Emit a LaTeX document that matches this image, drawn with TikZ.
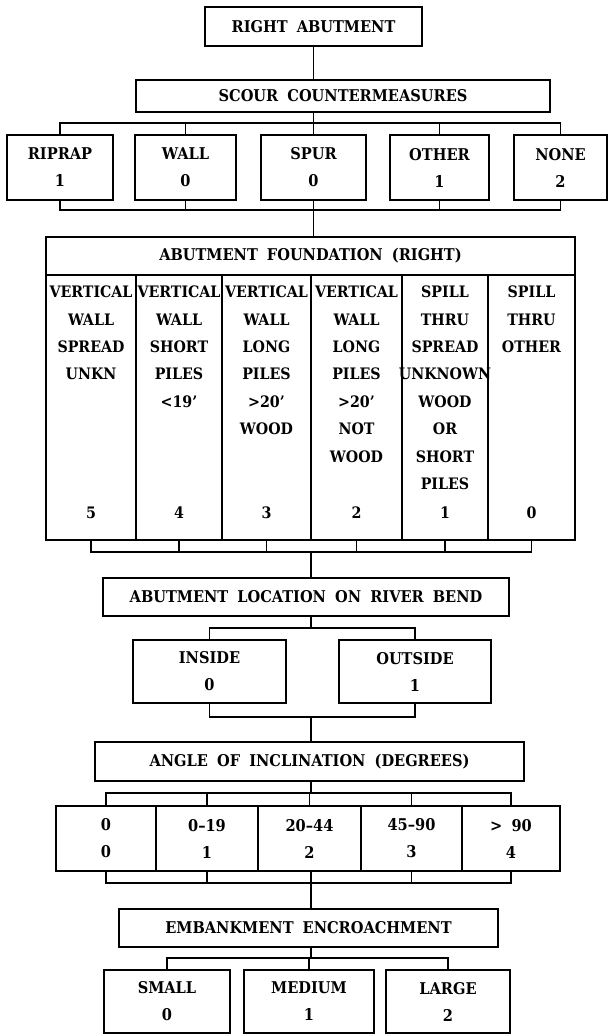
\documentclass[tikz,border=0pt]{standalone}
\usepackage{fontspec}
\setmainfont{DejaVu Serif Condensed}[WordSpace=1.8]
\usetikzlibrary{positioning}
\newcommand{\boxfont}{\fontsize{16.2}{27}\selectfont\bfseries}
\newcommand{\colfont}{\fontsize{15.8}{27.4}\selectfont\bfseries}
\tikzset{
  box/.style={draw, line width=1.5pt, inner sep=0pt, align=center, font=\boxfont},
  colbox/.style={draw, line width=1.5pt, inner sep=0pt, minimum height=265},
  coltext/.style={inner sep=0pt, align=center, font=\colfont},
}
\begin{document}
\begin{tikzpicture}[x=1pt, y=-1pt, line width=1.5pt]
  \useasboundingbox (0,0) rectangle (610,1034);
  % top of the tree
  \node[box, minimum width=217, minimum height=39] (rightab) at (313.5,26.5) {RIGHT ABUTMENT};
  \node[box, minimum width=414, minimum height=32] (scour) at (343,96) {SCOUR COUNTERMEASURES};
  \node[box, minimum width=106, minimum height=65] (riprap) at (60,167.5) {RIPRAP\\1};
  \node[box, minimum width=101, minimum height=65] (wall) at (185.5,167.5) {WALL\\0};
  \node[box, minimum width=105, minimum height=65] (spur) at (313.5,167.5) {SPUR\\0};
  \node[box, minimum width=99, minimum height=65] (other) at (439.5,167.5) {OTHER\\1};
  \node[box, minimum width=93, minimum height=65] (none) at (560.5,167.5) {NONE\\2};
  % foundation table
  \node[box, minimum width=529, minimum height=38] (found) at (310.5,256) {ABUTMENT FOUNDATION (RIGHT)};
  \node[colbox, minimum width=90] (colA) at (91,407.5) {};
  \node[colbox, minimum width=86] (colB) at (179,407.5) {};
  \node[colbox, minimum width=89] (colC) at (266.5,407.5) {};
  \node[colbox, minimum width=91] (colD) at (356.5,407.5) {};
  \node[colbox, minimum width=86] (colE) at (445,407.5) {};
  \node[colbox, minimum width=87] (colF) at (531.5,407.5) {};
  \node[coltext, below=11pt of colA.north] (txtA) {VERTICAL\\WALL\\SPREAD\\UNKN};
  \node[coltext, below=11pt of colB.north] (txtB) {VERTICAL\\WALL\\SHORT\\PILES\\<19'};
  \node[coltext, below=11pt of colC.north] (txtC) {VERTICAL\\WALL\\LONG\\PILES\\>20'\\WOOD};
  \node[coltext, below=11pt of colD.north] (txtD) {VERTICAL\\WALL\\LONG\\PILES\\>20'\\NOT\\WOOD};
  \node[coltext, below=11pt of colE.north] (txtE) {SPILL\\THRU\\SPREAD\\UNKNOWN\\WOOD\\OR\\SHORT\\PILES};
  \node[coltext, below=11pt of colF.north] (txtF) {SPILL\\THRU\\OTHER};
  \node[coltext, anchor=base] (numA) at (91,518) {5};
  \node[coltext, anchor=base] (numB) at (179,518) {4};
  \node[coltext, anchor=base] (numC) at (266.5,518) {3};
  \node[coltext, anchor=base] (numD) at (356.5,518) {2};
  \node[coltext, anchor=base] (numE) at (445,518) {1};
  \node[coltext, anchor=base] (numF) at (531.5,518) {0};
  % river bend
  \node[box, minimum width=406, minimum height=38] (location) at (306,597) {ABUTMENT LOCATION ON RIVER BEND};
  \node[box, minimum width=153, minimum height=63] (inside) at (209.5,671.5) {INSIDE\\0};
  \node[box, minimum width=152, minimum height=63] (outside) at (415,671.5) {OUTSIDE\\1};
  % inclination
  \node[box, minimum width=429, minimum height=39] (angle) at (309.5,761.5) {ANGLE OF INCLINATION (DEGREES)};
  \node[box, minimum width=100, minimum height=65] (degA) at (106,838.5) {0\\0};
  \node[box, minimum width=102, minimum height=65] (degB) at (207,838.5) {0--19\\1};
  \node[box, minimum width=103, minimum height=65] (degC) at (309.5,838.5) {20--44\\2};
  \node[box, minimum width=101, minimum height=65] (degD) at (411.5,838.5) {45--90\\3};
  \node[box, minimum width=98, minimum height=65] (degE) at (511,838.5) {> 90\\4};
  % encroachment
  \node[box, minimum width=379, minimum height=38] (embank) at (308.5,928) {EMBANKMENT ENCROACHMENT};
  \node[box, minimum width=126, minimum height=63] (small) at (167,1001.5) {SMALL\\0};
  \node[box, minimum width=130, minimum height=63] (medium) at (309,1001.5) {MEDIUM\\1};
  \node[box, minimum width=124, minimum height=63] (large) at (448,1001.5) {LARGE\\2};
  % buses
  \coordinate (busA) at (313.5,123);
  \coordinate (busB) at (313.5,210);
  \coordinate (busC) at (311,552);
  \coordinate (busD) at (311,628);
  \coordinate (busE) at (311,717);
  \coordinate (busF) at (311,793);
  \coordinate (busG) at (311,883);
  \coordinate (busH) at (311,958);
  \draw (rightab) -- (rightab |- scour.north);
  \draw (scour.south -| busA) -- (busA);
  \draw (riprap) -- (busA -| riprap) -- (busA -| none) -- (none);
  \draw (wall) -- (busA -| wall);
  \draw (spur) -- (busA -| spur);
  \draw (other) -- (busA -| other);
  \draw (riprap) -- (busB -| riprap) -- (busB -| none) -- (none);
  \draw (wall) -- (busB -| wall);
  \draw (other) -- (busB -| other);
  \draw (spur) -- (spur |- found.north);
  \draw (colA) -- (busC -| colA) -- (busC -| colF) -- (colF);
  \draw (colB) -- (busC -| colB);
  \draw (colC) -- (busC -| colC);
  \draw (colD) -- (busC -| colD);
  \draw (colE) -- (busC -| colE);
  \draw (busC) -- (busC |- location.north);
  \draw (location.south -| busD) -- (busD);
  \draw (inside) -- (busD -| inside) -- (busD -| outside) -- (outside);
  \draw (inside) -- (busE -| inside) -- (busE -| outside) -- (outside);
  \draw (busE) -- (busE |- angle.north);
  \draw (angle.south -| busF) -- (busF);
  \draw (degA) -- (busF -| degA) -- (busF -| degE) -- (degE);
  \draw (degB) -- (busF -| degB);
  \draw (degC) -- (busF -| degC);
  \draw (degD) -- (busF -| degD);
  \draw (degA) -- (busG -| degA) -- (busG -| degE) -- (degE);
  \draw (degB) -- (busG -| degB);
  \draw (degD) -- (busG -| degD);
  \draw (degC.south -| busG) -- (busG |- embank.north);
  \draw (embank.south -| busH) -- (busH);
  \draw (small) -- (busH -| small) -- (busH -| large) -- (large);
  \draw (medium) -- (busH -| medium);
\end{tikzpicture}
\end{document}
